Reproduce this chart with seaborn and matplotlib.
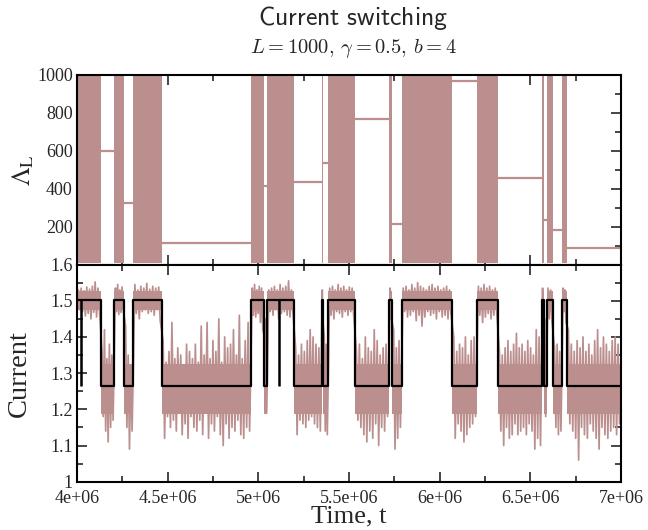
import numpy as np
import pandas as pd
import matplotlib
matplotlib.use("Agg")
import matplotlib.pyplot as plt
import seaborn as sns
from matplotlib.ticker import MultipleLocator, FixedLocator, FuncFormatter

sns.set_style("ticks")
plt.rcParams['font.family'] = ['Liberation Serif', 'DejaVu Serif']
plt.rcParams['mathtext.fontset'] = 'cm'

# ---------------- data (times in units of 1e6) ----------------
switch_times = [4.000, 4.131, 4.206, 4.261, 4.311, 4.467, 4.960, 5.031, 5.050, 5.198,
                5.350, 5.358, 5.386, 5.533, 5.721, 5.739, 5.791, 6.070, 6.206, 6.322,
                6.564, 6.575, 6.590, 6.627, 6.676, 6.702]
t_end = 7.0
states = ["H", "L"] * 13
current_level = {"H": 1.501, "L": 1.265}
dip_times = [4.020, 5.114]

# Lambda_L plateau values during the low-current segments
lambda_flat = [600, 327, 116, 414, 434, 537, 768, 214, 967, 455, 235, 182, 86]
burst_range = [8, 996]

# dense core of the current noise, per state
core_lo = {"H": 1.474, "L": 1.188}
core_hi = {"H": 1.528, "L": 1.325}

# noise envelope spikes, per segment
noise_hi = [
    [1.530, 1.535, 1.528, 1.538, 1.532, 1.540, 1.552, 1.535],
    [1.36, 1.42, 1.34, 1.38, 1.35],
    [1.535, 1.545, 1.53, 1.538],
    [1.43, 1.35, 1.32],
    [1.545, 1.53, 1.54, 1.535, 1.548, 1.532, 1.54, 1.535, 1.538],
    [1.39, 1.33, 1.36, 1.44, 1.34, 1.37, 1.35, 1.32, 1.38, 1.36, 1.34, 1.38, 1.33, 1.43, 1.35,
     1.44, 1.34, 1.39, 1.36, 1.45, 1.33, 1.40, 1.37, 1.38, 1.42, 1.35, 1.46, 1.34, 1.39, 1.44],
    [1.535, 1.545, 1.53, 1.54, 1.535],
    [1.40, 1.45],
    [1.53, 1.535, 1.54, 1.53, 1.545, 1.535, 1.54, 1.555, 1.53],
    [1.37, 1.35, 1.38, 1.36, 1.39, 1.42, 1.40, 1.38, 1.37],
    [1.53],
    [1.40, 1.38],
    [1.535, 1.54, 1.53, 1.545, 1.535, 1.54, 1.53, 1.538, 1.535],
    [1.36, 1.38, 1.34, 1.40, 1.37, 1.36, 1.42, 1.39, 1.35, 1.37, 1.38],
    [1.535],
    [1.42, 1.37, 1.39],
    [1.535, 1.54, 1.53, 1.545, 1.535, 1.55, 1.54, 1.535, 1.53, 1.54, 1.545, 1.535, 1.54, 1.53,
     1.535, 1.54, 1.53],
    [1.40, 1.36, 1.38, 1.37, 1.40, 1.35, 1.39, 1.40],
    [1.54, 1.535, 1.545, 1.535, 1.54, 1.53, 1.535],
    [1.36, 1.35, 1.37, 1.39, 1.36, 1.38, 1.41, 1.37, 1.38, 1.36, 1.39, 1.37, 1.35, 1.42, 1.40],
    [1.535],
    [1.45],
    [1.535, 1.53],
    [1.37, 1.38, 1.36],
    [1.535, 1.53],
    [1.42, 1.38, 1.36, 1.39, 1.37, 1.40, 1.36, 1.38, 1.35, 1.39, 1.42, 1.37, 1.40, 1.38, 1.36,
     1.39, 1.40, 1.38],
]
noise_lo = [
    [1.475, 1.470, 1.458, 1.465, 1.450, 1.468, 1.455, 1.478],
    [1.18, 1.14, 1.11, 1.15, 1.17],
    [1.47, 1.462, 1.468, 1.475],
    [1.15, 1.09, 1.14],
    [1.465, 1.45, 1.47, 1.475, 1.465, 1.47, 1.46, 1.475, 1.445],
    [1.12, 1.18, 1.15, 1.17, 1.14, 1.19, 1.13, 1.16, 1.12, 1.18, 1.15, 1.14, 1.17, 1.13, 1.19,
     1.12, 1.16, 1.14, 1.18, 1.13, 1.10, 1.16, 1.12, 1.15, 1.14, 1.17, 1.13, 1.12, 1.15, 1.14],
    [1.46, 1.455, 1.465, 1.44, 1.42],
    [1.22, 1.19],
    [1.47, 1.46, 1.475, 1.45, 1.465, 1.47, 1.46, 1.455, 1.47],
    [1.13, 1.17, 1.16, 1.15, 1.17, 1.18, 1.16, 1.15, 1.14],
    [1.45],
    [1.14, 1.13],
    [1.46, 1.45, 1.47, 1.465, 1.455, 1.47, 1.46, 1.47, 1.465],
    [1.17, 1.15, 1.13, 1.11, 1.14, 1.12, 1.16, 1.10, 1.15, 1.14, 1.18],
    [1.45],
    [1.09, 1.12, 1.15],
    [1.47, 1.455, 1.46, 1.47, 1.445, 1.46, 1.43, 1.455, 1.47, 1.46, 1.465, 1.45, 1.47, 1.455,
     1.46, 1.45, 1.465],
    [1.12, 1.16, 1.14, 1.11, 1.13, 1.15, 1.16, 1.18],
    [1.46, 1.44, 1.455, 1.465, 1.45, 1.46, 1.47],
    [1.14, 1.10, 1.15, 1.12, 1.13, 1.16, 1.13, 1.14, 1.15, 1.13, 1.16, 1.14, 1.09, 1.12, 1.10],
    [1.40],
    [1.18],
    [1.45, 1.44],
    [1.15, 1.13, 1.14],
    [1.47, 1.44],
    [1.16, 1.14, 1.12, 1.06, 1.15, 1.13, 1.12, 1.16, 1.14, 1.12, 1.09, 1.15, 1.13, 1.12, 1.14,
     1.15, 1.13, 1.16],
]

x_major_ticks = [4.0, 4.5, 5.0, 5.5, 6.0, 6.5, 7.0]
cur_ticks = [1.0, 1.1, 1.2, 1.3, 1.4, 1.5, 1.6]
lam_ticks = [0, 200, 400, 600, 800, 1000]

# ---------------- figure ----------------
NOISE = "#bc8f8f"
SCALE = 1e6
fig = plt.figure(figsize=(6.48, 5.30), dpi=100)
ax_top = fig.add_axes([0.1188, 0.5008, 0.8395, 0.3577])
ax_bot = fig.add_axes([0.1188, 0.0911, 0.8395, 0.4097], sharex=ax_top)

seg_start = np.array(switch_times) * SCALE
seg_end = np.array(switch_times[1:] + [t_end]) * SCALE

# --- top panel: Lambda_L ---
k = 0
for s, a, b in zip(states, seg_start, seg_end):
    if s == "H":
        ax_top.fill_between([a, b], burst_range[0], burst_range[1], color=NOISE, lw=0)
    else:
        ax_top.hlines(lambda_flat[k], a, b, color=NOISE, lw=1.6)
        k += 1

# --- bottom panel: current ---
step_x = np.append(seg_start, t_end * SCALE)
clo = [core_lo[s] for s in states] + [core_lo[states[-1]]]
chi = [core_hi[s] for s in states] + [core_hi[states[-1]]]
ax_bot.fill_between(step_x, clo, chi, step="post", color=NOISE, lw=0, zorder=1)

nt, ny = [], []
for a, b, hi, lo in zip(seg_start, seg_end, noise_hi, noise_lo):
    pos = np.linspace(a, b, 2 * len(hi) + 2)[1:-1]
    for i in range(len(hi)):
        nt += [pos[2 * i], pos[2 * i + 1]]
        ny += [hi[i], lo[i]]
noise_df = pd.DataFrame({"t": nt, "current": ny})
sns.lineplot(data=noise_df, x="t", y="current", estimator=None, sort=False,
             color=NOISE, lw=1.25, ax=ax_bot, zorder=2)

step_y = [current_level[s] for s in states] + [current_level[states[-1]]]
step_df = pd.DataFrame({"t": step_x, "level": step_y})
sns.lineplot(data=step_df, x="t", y="level", estimator=None, sort=False,
             drawstyle="steps-post", color="black", lw=1.6, ax=ax_bot, zorder=3)
ax_bot.vlines(np.array(dip_times) * SCALE, current_level["L"], current_level["H"],
              color="black", lw=1.8, zorder=3)

# --- axes styling ---
for ax in (ax_top, ax_bot):
    ax.set_xlim(4.0 * SCALE, 7.0 * SCALE)
    ax.xaxis.set_major_locator(FixedLocator([v * SCALE for v in x_major_ticks]))
    ax.xaxis.set_minor_locator(MultipleLocator(0.25 * SCALE))
    ax.tick_params(which="both", direction="in", top=True, right=True, width=1.2,
                   labelsize=13, pad=3)
    ax.tick_params(which="major", length=7.5)
    ax.tick_params(which="minor", length=4)
    ax.tick_params(axis="x", pad=6)
    for sp in ax.spines.values():
        sp.set_linewidth(1.5)
        sp.set_color("black")

ax_top.set_ylim(0, 1000)
ax_top.yaxis.set_major_locator(FixedLocator(lam_ticks))
ax_top.yaxis.set_minor_locator(MultipleLocator(100))
ax_top.yaxis.set_major_formatter(FuncFormatter(lambda v, p: "" if v == 0 else f"{v:g}"))
ax_top.tick_params(labelbottom=False)
ax_top.set_xlabel("")
ax_top.set_ylabel(r"$\Lambda_{\mathrm{L}}$", fontsize=19, math_fontfamily="stix")
ax_top.yaxis.set_label_coords(-0.075, 0.5)

ax_bot.set_ylim(1.0, 1.6)
ax_bot.yaxis.set_major_locator(FixedLocator(cur_ticks))
ax_bot.yaxis.set_minor_locator(MultipleLocator(0.05))
ax_bot.yaxis.set_major_formatter(FuncFormatter(lambda v, p: f"{v:g}"))
ax_bot.xaxis.set_major_formatter(FuncFormatter(lambda v, p: f"{v:g}"))
ax_bot.set_ylabel("Current", fontsize=20.5)
ax_bot.yaxis.set_label_coords(-0.082, 0.5)
ax_bot.set_xlabel("Time, t", fontsize=19)
ax_bot.xaxis.set_label_coords(0.5, -0.11)

fig.text(0.545, 0.966, r"$\mathsf{Current\ switching}$", ha="center", va="center",
         fontsize=18.5, math_fontfamily="cm")
fig.text(0.545, 0.909, r"$L = 1000$, $\gamma = 0.5$, $b = 4$", ha="center", va="center",
         fontsize=14.8, family="cmr10", math_fontfamily="cm")

fig.savefig("out.png", dpi=100)
